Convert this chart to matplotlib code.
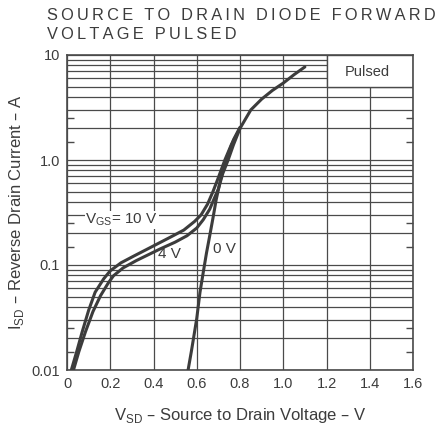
import matplotlib
matplotlib.use("Agg")
import matplotlib.pyplot as plt
from matplotlib.patches import Rectangle
from matplotlib.ticker import FixedLocator, NullFormatter

plt.rcParams['font.family'] = ['Liberation Sans', 'DejaVu Sans']

# ---- data ----
v_10 = [0.02, 0.045, 0.07, 0.10, 0.13, 0.17, 0.20, 0.25, 0.31, 0.40, 0.48, 0.54, 0.59, 0.62,
        0.65, 0.675, 0.70, 0.73, 0.76, 0.80, 0.85, 0.90, 0.95, 1.00, 1.05, 1.10]
i_10 = [0.01, 0.015, 0.023, 0.037, 0.055, 0.074, 0.088, 0.105, 0.122, 0.152, 0.185, 0.215, 0.26, 0.30,
        0.38, 0.50, 0.68, 1.0, 1.4, 2.0, 3.0, 3.8, 4.6, 5.4, 6.5, 7.7]

v_4 = [0.03, 0.055, 0.085, 0.12, 0.155, 0.19, 0.215, 0.26, 0.32, 0.43, 0.50, 0.555, 0.60, 0.63,
       0.66, 0.685, 0.70, 0.72, 0.745, 0.77, 0.80]
i_4 = [0.01, 0.015, 0.023, 0.036, 0.051, 0.067, 0.079, 0.094, 0.11, 0.142, 0.165, 0.19, 0.225, 0.27,
       0.34, 0.45, 0.53, 0.74, 1.0, 1.4, 2.0]

v_0 = [0.56, 0.575, 0.585, 0.60, 0.615, 0.63, 0.645, 0.66, 0.675, 0.69, 0.71, 0.73, 0.77, 0.80]
i_0 = [0.01, 0.015, 0.02, 0.031, 0.055, 0.085, 0.13, 0.19, 0.28, 0.42, 0.65, 0.94, 1.56, 2.05]

x_ticks = [0, 0.2, 0.4, 0.6, 0.8, 1.0, 1.2, 1.4, 1.6]
x_tick_labels = ['0', '0.2', '0.4', '0.6', '0.8', '1.0', '1.2', '1.4', '1.6']
y_ticks = [0.01, 0.1, 1, 10]
y_tick_labels = ['0.01', '0.1', '1.0', '10']

curve_labels = [r'V$_{\mathregular{GS}}$= 10 V', '4 V', '0 V']
title_lines = ['SOURCE TO DRAIN DIODE FORWARD', 'VOLTAGE PULSED']

# ---- styling ----
ink = '#3c3c3c'
grid_c = '#4a4a4a'

fig = plt.figure(figsize=(4.43, 4.37), dpi=100)
ax = fig.add_axes([67/443, 1-370/437, (413-67)/443, (370-55)/437])
ax.set_yscale('log')
ax.set_xlim(0, 1.6)
ax.set_ylim(0.01, 10)

ax.set_xticks(x_ticks)
ax.set_xticklabels(x_tick_labels)
ax.set_yticks(y_ticks)
ax.set_yticklabels(y_tick_labels)
minor = [m * 10.0**e for e in (-2, -1, 0) for m in range(2, 10)]
ax.yaxis.set_minor_locator(FixedLocator(minor))
ax.yaxis.set_minor_formatter(NullFormatter())
ax.tick_params(which='both', length=0, labelsize=10.5, colors=ink, pad=5)
ax.grid(True, which='both', color=grid_c, linewidth=0.9)
ax.set_axisbelow(True)
for s in ax.spines.values():
    s.set_color(grid_c)
    s.set_linewidth(1.2)

# short inward ticks at 1.5 and 2.5 of each decade
ax2 = ax.twinx()
ax2.set_yscale('log')
ax2.set_ylim(0.01, 10)
ax2.yaxis.set_major_locator(FixedLocator([m * 10.0**e for e in (-2, -1, 0) for m in (1.5, 2.5)]))
ax2.yaxis.set_minor_locator(FixedLocator([]))
ax2.tick_params(axis='y', which='major', direction='in', length=5, width=1, color=grid_c,
                left=True, right=True, labelleft=False, labelright=False)
for s in ax2.spines.values():
    s.set_visible(False)

# Pulsed box
ax.add_patch(Rectangle((1.2, 5), 0.4, 5, facecolor='white', edgecolor=grid_c, linewidth=1.0, zorder=1.5))
ax.text(1.39, 6.9, 'Pulsed', ha='center', va='center', fontsize=10.5, color=ink, zorder=3)

lw = 2.2
ax.plot(v_10, i_10, color=ink, lw=lw, zorder=4, solid_capstyle='round')
ax.plot(v_4, i_4, color=ink, lw=lw, zorder=4, solid_capstyle='round')
ax.plot(v_0, i_0, color=ink, lw=lw, zorder=4, solid_capstyle='round')

bb = dict(facecolor='white', edgecolor='none', pad=0.5)
ax.text(0.085, 0.27, curve_labels[0], ha='left', va='center', fontsize=11, color=ink, bbox=bb, zorder=3)
ax.text(0.475, 0.127, curve_labels[1], ha='center', va='center', fontsize=11, color=ink, bbox=bb, zorder=3)
ax.text(0.73, 0.142, curve_labels[2], ha='center', va='center', fontsize=11, color=ink, bbox=bb, zorder=3)

ax.set_xlabel(r'V$_{\mathregular{SD}}$ – Source to Drain Voltage – V', fontsize=12, color=ink, labelpad=11)
ax.set_ylabel(r'I$_{\mathregular{SD}}$ – Reverse Drain Current – A', fontsize=12, color=ink, labelpad=4)

thin = '\u2009'
spaced = '\n'.join(thin.join(line) for line in title_lines)
fig.text(47/443, 1-8/437, spaced, ha='left', va='top',
         fontsize=11.8, color=ink, linespacing=1.3)

fig.savefig('out.png', dpi=100)
